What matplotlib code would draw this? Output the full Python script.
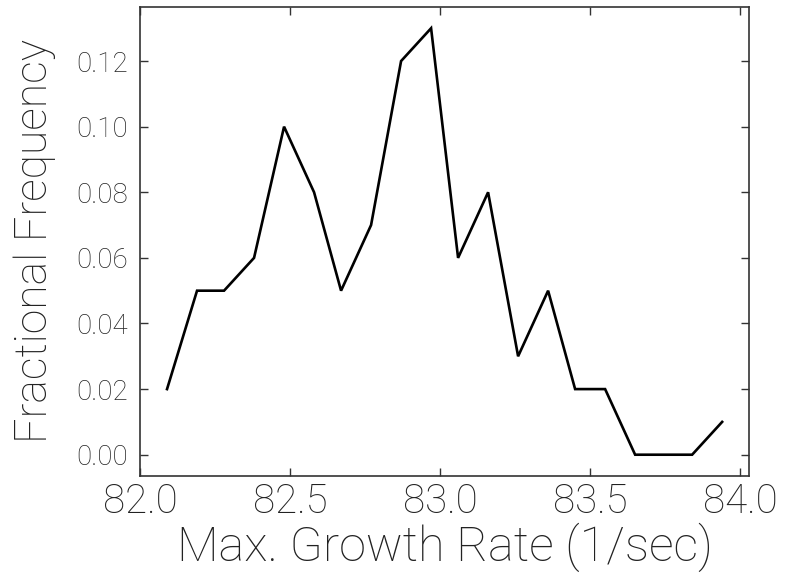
import matplotlib

matplotlib.use('Agg')
import matplotlib.pyplot as plt

# bin centres of the growth-rate histogram (1/sec)
growth_rate = [82.09, 82.19, 82.28, 82.38, 82.48, 82.58, 82.67, 82.77, 82.87, 82.97,
               83.06, 83.16, 83.26, 83.36, 83.45, 83.55, 83.65, 83.74, 83.84, 83.94]
# fraction of runs in each bin
frac_freq = [0.02, 0.05, 0.05, 0.06, 0.10, 0.08, 0.05, 0.07, 0.12, 0.13,
             0.06, 0.08, 0.03, 0.05, 0.02, 0.02, 0.00, 0.00, 0.00, 0.01]

x_ticks = [82.0, 82.5, 83.0, 83.5, 84.0]
y_ticks = [0.00, 0.02, 0.04, 0.06, 0.08, 0.10, 0.12]

plt.rcParams['font.family'] = ['Roboto', 'DejaVu Sans']
plt.rcParams['font.weight'] = 'light'
plt.rcParams['axes.labelweight'] = 'light'

fig = plt.figure(figsize=(7.88, 5.77), dpi=100)
ax = fig.add_axes([0.1777, 0.175, 0.773, 0.813])

ax.plot(growth_rate, frac_freq, color='black', linewidth=1.9,
        solid_joinstyle='miter')

ax.set_xlim(82.0, 84.03)
ax.set_ylim(-0.0065, 0.1365)
ax.set_xticks(x_ticks)
ax.set_xticklabels(['%.1f' % v for v in x_ticks])
ax.set_yticks(y_ticks)
ax.set_yticklabels(['%.2f' % v for v in y_ticks])

ax.tick_params(axis='both', direction='in', top=True, right=True,
               length=6, width=1, color='#333333')
ax.tick_params(axis='x', labelsize=29, pad=5, labelcolor='#222222')
ax.tick_params(axis='y', labelsize=20, pad=9, labelcolor='#222222')

for s in ax.spines.values():
    s.set_linewidth(1.2)
    s.set_color('#333333')

ax.set_xlabel('Max. Growth Rate (1/sec)', fontsize=35, color='#222222', labelpad=1)
ax.set_ylabel('Fractional Frequency', fontsize=32, color='#222222', labelpad=14)

fig.savefig('out.png', dpi=100)
